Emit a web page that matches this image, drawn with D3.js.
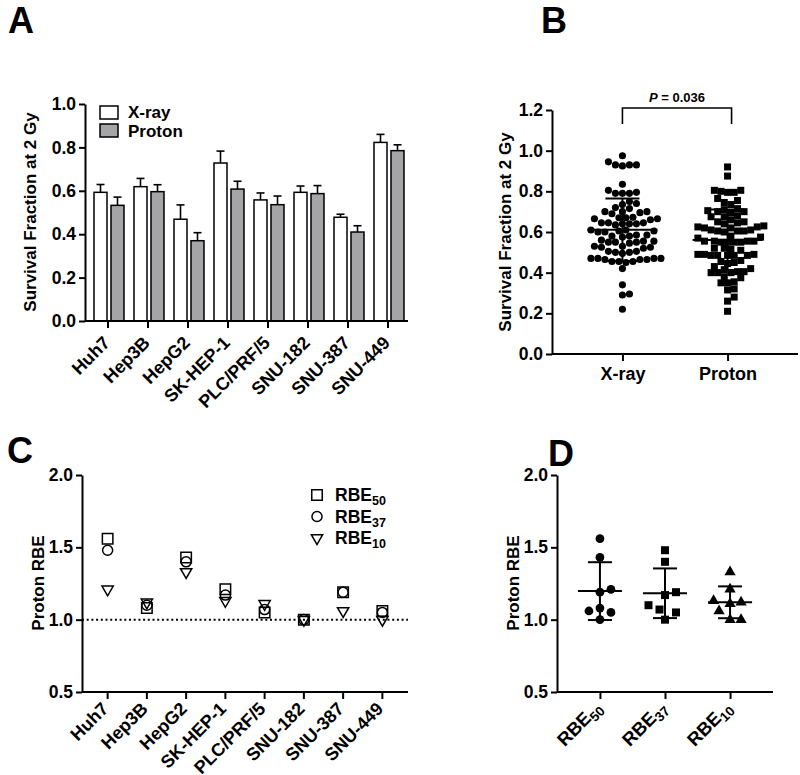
<!DOCTYPE html>
<html><head><meta charset="utf-8">
<script src="https://cdn.jsdelivr.net/npm/d3@7"></script>
<style>body{margin:0;background:#fff}svg{font-family:"Liberation Sans",Arial,sans-serif;font-weight:bold}</style>
</head><body>
<svg id="chart" width="800" height="775"></svg>
<script>
// ---------- DATA ----------
const cellLines = ["Huh7","Hep3B","HepG2","SK-HEP-1","PLC/PRF/5","SNU-182","SNU-387","SNU-449"];
const xrayMean   = [0.593,0.619,0.469,0.728,0.558,0.593,0.478,0.823];
const xrayErr    = [0.036,0.038,0.066,0.055,0.032,0.029,0.014,0.037];
const protonMean = [0.533,0.596,0.370,0.608,0.536,0.587,0.410,0.785];
const protonErr  = [0.038,0.032,0.037,0.036,0.040,0.037,0.029,0.027];
const survTicks  = [0,0.2,0.4,0.6,0.8,1.0];
const seriesNames = ["X-ray","Proton"];

const xrayPoints = [0.975,
  0.945,0.93,0.925,0.93,0.93,
  0.835,
  0.805,0.79,0.79,0.79,0.795,
  0.75,0.74,0.735,
  0.715,0.72,
  0.70,0.695,0.70,0.70,0.69,
  0.67,0.665,0.66,0.665,0.67,0.672,
  0.645,0.64,0.645,0.64,0.635,0.645,0.64,
  0.61,0.605,0.60,0.605,0.61,0.60,
  0.58,0.585,0.575,0.58,0.585,
  0.555,0.55,0.55,0.545,0.555,0.55,0.56,
  0.53,0.525,0.52,0.525,0.53,
  0.505,0.50,0.495,0.50,0.505,
  0.47,0.465,0.47,0.47,0.465,0.47,0.465,
  0.455,0.45,0.455,0.455,
  0.42,0.34,0.295,0.29,0.22];
const protonPoints = [0.92,0.875,
  0.805,0.795,0.795,0.805,0.80,
  0.765,0.755,0.745,0.735,
  0.715,0.71,0.705,0.70,0.695,0.70,
  0.68,0.675,0.675,
  0.66,0.65,0.645,0.64,0.65,
  0.625,0.62,0.625,0.63,0.62,
  0.61,0.605,0.60,0.605,0.61,0.605,
  0.58,0.575,0.57,
  0.555,0.55,0.555,0.55,0.55,0.555,0.55,0.555,
  0.52,0.515,0.51,0.52,
  0.49,0.485,0.485,0.485,0.49,0.485,0.49,0.485,
  0.46,0.45,0.445,0.455,
  0.43,0.42,0.415,
  0.405,0.40,0.40,0.405,0.40,
  0.38,0.375,
  0.355,0.35,0.35,
  0.32,0.315,
  0.28,0.26,0.21];
const scatterTicks = [0,0.2,0.4,0.6,0.8,1.0,1.2];
const pValueText = "0.036";

const rbe50 = [1.56,1.08,1.43,1.21,1.05,1.00,1.19,1.06];
const rbe37 = [1.48,1.10,1.40,1.17,1.07,1.00,1.19,1.05];
const rbe10 = [1.21,1.12,1.33,1.13,1.11,1.00,1.06,1.00];
const rbeSubs = ["50","37","10"];
const rbeTicks = [0.5,1.0,1.5,2.0];

// ---------- HELPERS ----------
const svg = d3.select("#chart");
const fmt = d3.format(".1f");
function styleAxis(g){
  g.selectAll("path.domain").attr("stroke","#000").attr("stroke-width",2);
  g.selectAll(".tick line").attr("stroke","#000").attr("stroke-width",2);
  g.selectAll("text").attr("font-family","Liberation Sans, Arial, sans-serif")
    .attr("font-weight","bold").attr("font-size",17.5).attr("fill","#000");
}
function yAxis(x, y, ticks){
  const g = svg.append("g").attr("transform",`translate(${x},0)`)
    .call(d3.axisLeft(y).tickValues(ticks).tickFormat(fmt).tickSize(6).tickSizeOuter(0).tickPadding(3));
  styleAxis(g); return g;
}
function yTitle(x, cy, text){
  svg.append("text").attr("transform",`translate(${x},${cy}) rotate(-90)`)
    .attr("text-anchor","middle").attr("font-size",17).text(text);
}
function letter(x,y,t){ svg.append("text").attr("x",x).attr("y",y).attr("font-size",36).text(t); }
function swarm(values, y, diam, step){
  const order = values.map((v,i)=>i).sort((a,b)=>values[a]-values[b]);
  const placed=[], out=new Array(values.length);
  for(const i of order){
    const py=y(values[i]); let x=0;
    for(let k=0;k<200;k++){
      const c = k===0?0:(k%2? Math.ceil(k/2)*step : -Math.ceil(k/2)*step);
      if(placed.every(p=>(p.x-c)**2+(p.y-py)**2 >= diam*diam)){x=c;break;}
    }
    placed.push({x,y:py}); out[i]=x;
  }
  return out;
}
function meanSD(a){ return [d3.mean(a), d3.deviation(a)]; }

// ---------- PANEL A ----------
letter(8,33,"A");
const yA = d3.scaleLinear().domain([0,1]).range([321,104]);
const xA = d3.scaleBand().domain(cellLines).range([88,408]);
const xA2 = d3.scaleBand().domain(seriesNames).range([6,36]).paddingInner(0.235);
const gA = svg.append("g");
const seriesA = [
  {name:"X-ray", vals:xrayMean, err:xrayErr, fill:"#ffffff"},
  {name:"Proton", vals:protonMean, err:protonErr, fill:"#a5a5a8"}];
seriesA.forEach(s=>{
  cellLines.forEach((c,i)=>{
    const x0 = xA(c)+xA2(s.name), w = xA2.bandwidth(), cx = x0+w/2;
    gA.append("line").attr("x1",cx).attr("x2",cx).attr("y1",yA(s.vals[i])).attr("y2",yA(s.vals[i]+s.err[i]))
      .attr("stroke","#000").attr("stroke-width",1.6);
    gA.append("line").attr("x1",cx-4).attr("x2",cx+4).attr("y1",yA(s.vals[i]+s.err[i])).attr("y2",yA(s.vals[i]+s.err[i]))
      .attr("stroke","#000").attr("stroke-width",1.6);
    gA.append("rect").attr("x",x0).attr("y",yA(s.vals[i])).attr("width",w).attr("height",yA(0)-yA(s.vals[i]))
      .attr("fill",s.fill).attr("stroke","#000").attr("stroke-width",1.5);
  });
});
yAxis(85,yA,survTicks);
{
  const g = svg.append("g").attr("transform",`translate(0,321)`)
    .call(d3.axisBottom(xA).tickSize(7).tickSizeOuter(0).tickFormat(""));
  g.select("path.domain").remove();
  styleAxis(g);
  svg.append("line").attr("x1",85).attr("x2",408).attr("y1",321).attr("y2",321).attr("stroke","#000").attr("stroke-width",2);
  cellLines.forEach(c=>{
    svg.append("text").attr("transform",`translate(${xA(c)+xA.bandwidth()/2+3},344) rotate(-45)`)
      .attr("text-anchor","end").attr("font-size",18).text(c);
  });
}
yTitle(36,212,"Survival Fraction at 2 Gy");
seriesA.forEach((s,i)=>{
  svg.append("rect").attr("x",100).attr("y",106+i*18).attr("width",18).attr("height",13)
    .attr("fill",s.fill).attr("stroke","#000").attr("stroke-width",1.5);
  svg.append("text").attr("x",128).attr("y",118+i*18.5).attr("font-size",17).text(s.name);
});

// ---------- PANEL B ----------
letter(541,33,"B");
const yB = d3.scaleLinear().domain([0,1.2]).range([354,110]);
const xB = d3.scalePoint().domain(seriesNames).range([552,798]).padding(0.67);
yAxis(552,yB,scatterTicks);
{
  const g = svg.append("g").attr("transform","translate(0,354)")
    .call(d3.axisBottom(xB).tickSize(7).tickSizeOuter(0).tickPadding(6));
  g.select("path.domain").remove();
  styleAxis(g);
  g.selectAll("text").attr("font-size",18);
  svg.append("line").attr("x1",552).attr("x2",798).attr("y1",354).attr("y2",354).attr("stroke","#000").attr("stroke-width",2);
}
yTitle(511,232,"Survival Fraction at 2 Gy");
const groupsB = [{name:"X-ray",vals:xrayPoints,shape:d3.symbolCircle,size:40,diam:7.0},
                 {name:"Proton",vals:protonPoints,shape:d3.symbolSquare,size:49,diam:6.6}];
groupsB.forEach(gp=>{
  const cx = xB(gp.name);
  const offs = swarm(gp.vals, yB, gp.diam, gp.diam/2);
  gp.vals.forEach((v,i)=>{
    svg.append("path").attr("d",d3.symbol(gp.shape,gp.size)())
      .attr("transform",`translate(${cx+offs[i]},${yB(v)})`).attr("fill","#000");
  });
  const [m,sd] = meanSD(gp.vals);
  const ln = (x1,x2,y1,y2)=>svg.append("line").attr("x1",x1).attr("x2",x2).attr("y1",y1).attr("y2",y2).attr("stroke","#000").attr("stroke-width",2);
  ln(cx-35,cx+35,yB(m),yB(m));
  ln(cx,cx,yB(m-sd),yB(m+sd));
  ln(cx-17,cx+17,yB(m+sd),yB(m+sd));
  ln(cx-17,cx+17,yB(m-sd),yB(m-sd));
});
{
  const x1 = xB("X-ray"), x2 = xB("Proton")+4;
  svg.append("path").attr("d",`M${x1},124V108H${x2}V124`).attr("fill","none").attr("stroke","#000").attr("stroke-width",1.6);
  const t = svg.append("text").attr("x",(x1+x2)/2).attr("y",102).attr("text-anchor","middle").attr("font-size",13);
  t.append("tspan").attr("font-style","italic").text("P");
  t.append("tspan").text(" = "+pValueText);
}

// ---------- PANEL C ----------
letter(7,463,"C");
const yC = d3.scaleLinear().domain([0.5,2.0]).range([692,475]);
const xC = d3.scaleBand().domain(cellLines).range([88,402]);
yAxis(82,yC,rbeTicks);
{
  const g = svg.append("g").attr("transform","translate(0,692)")
    .call(d3.axisBottom(xC).tickSize(7).tickSizeOuter(0).tickFormat(""));
  g.select("path.domain").remove();
  styleAxis(g);
  svg.append("line").attr("x1",82).attr("x2",408).attr("y1",692).attr("y2",692).attr("stroke","#000").attr("stroke-width",2);
  cellLines.forEach(c=>{
    svg.append("text").attr("transform",`translate(${xC(c)+xC.bandwidth()/2+2},710) rotate(-45)`)
      .attr("text-anchor","end").attr("font-size",18).text(c);
  });
}
svg.append("line").attr("x1",82).attr("x2",408).attr("y1",yC(1)).attr("y2",yC(1))
  .attr("stroke","#000").attr("stroke-width",2).attr("stroke-dasharray","2,2.7");
yTitle(44,583,"Proton RBE");
const rbeSeries = [
  {vals:rbe50, sub:rbeSubs[0], shape:d3.symbolSquare, size:110, rot:0},
  {vals:rbe37, sub:rbeSubs[1], shape:d3.symbolCircle, size:80, rot:0},
  {vals:rbe10, sub:rbeSubs[2], shape:d3.symbolTriangle, size:55, rot:180}];
rbeSeries.forEach((s,k)=>{
  cellLines.forEach((c,i)=>{
    svg.append("path").attr("d",d3.symbol(s.shape,s.size)())
      .attr("transform",`translate(${xC(c)+xC.bandwidth()/2},${yC(s.vals[i])}) rotate(${s.rot})`)
      .attr("fill","none").attr("stroke","#000").attr("stroke-width",1.5);
  });
  const ly = 495 + k*21.5;
  svg.append("path").attr("d",d3.symbol(s.shape,s.size)())
    .attr("transform",`translate(317,${ly}) rotate(${s.rot})`)
    .attr("fill","none").attr("stroke","#000").attr("stroke-width",1.5);
  const t = svg.append("text").attr("x",335).attr("y",ly+6).attr("font-size",17.5);
  t.append("tspan").text("RBE");
  t.append("tspan").attr("font-size",12.5).attr("dy",4).text(s.sub);
});

// ---------- PANEL D ----------
letter(548,466,"D");
const yD = d3.scaleLinear().domain([0.5,2.0]).range([692,475]);
const xD = d3.scalePoint().domain(rbeSubs).range([557,773]).padding(0.66);
yAxis(557,yD,rbeTicks);
{
  const g = svg.append("g").attr("transform","translate(0,692)")
    .call(d3.axisBottom(xD).tickSize(7).tickSizeOuter(0).tickFormat(""));
  g.select("path.domain").remove();
  styleAxis(g);
  svg.append("line").attr("x1",557).attr("x2",773).attr("y1",692).attr("y2",692).attr("stroke","#000").attr("stroke-width",2);
  rbeSubs.forEach(s=>{
    const t = svg.append("text").attr("transform",`translate(${xD(s)+3},709) rotate(-45)`)
      .attr("text-anchor","end").attr("font-size",18.5);
    t.append("tspan").text("RBE");
    t.append("tspan").attr("font-size",13.5).attr("dy",4).text(s);
  });
}
yTitle(519,583,"Proton RBE");
const dShapes = [{s:d3.symbolCircle,size:60},{s:d3.symbolSquare,size:64},{s:d3.symbolTriangle,size:55}];
rbeSeries.forEach((s,k)=>{
  const cx = xD(s.sub);
  const offs = swarm(s.vals, yD, 10.5, 5.5);
  s.vals.forEach((v,i)=>{
    svg.append("path").attr("d",d3.symbol(dShapes[k].s,dShapes[k].size)())
      .attr("transform",`translate(${cx+offs[i]},${yD(v)})`).attr("fill","#000");
  });
  const [m,sd] = meanSD(s.vals);
  const ln = (x1,x2,y1,y2)=>svg.append("line").attr("x1",x1).attr("x2",x2).attr("y1",y1).attr("y2",y2).attr("stroke","#000").attr("stroke-width",2);
  ln(cx-22,cx+22,yD(m),yD(m));
  ln(cx,cx,yD(m-sd),yD(m+sd));
  ln(cx-12,cx+12,yD(m+sd),yD(m+sd));
  ln(cx-12,cx+12,yD(m-sd),yD(m-sd));
});
</script>
</body></html>
